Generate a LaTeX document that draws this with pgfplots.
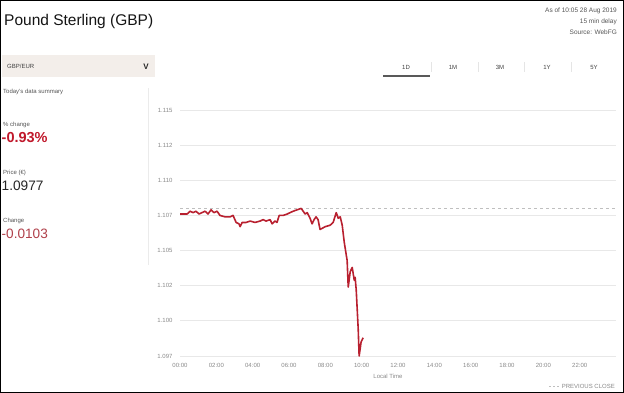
\documentclass[border=0pt]{standalone}
\usepackage{pgfplots}
\pgfplotsset{compat=1.18}
\usepackage{fontspec}
\setmainfont{Liberation Sans}
\definecolor{lred}{HTML}{B8202F}
\definecolor{bigred}{HTML}{C0182B}
\definecolor{mred}{HTML}{B0404A}
\definecolor{txtgray}{HTML}{555555}
\definecolor{tickgray}{HTML}{888888}
\definecolor{boxfill}{HTML}{F3EEEA}
\newcommand{\fs}[1]{\fontsize{#1}{#1}\selectfont}
\begin{document}
\begin{tikzpicture}[x=1pt,y=1pt]
\useasboundingbox (0,0) rectangle (624,-393);
% outer frame
\draw[line width=1.4pt,black] (0.7,-0.7) rectangle (623.3,-392.3);
% title
\node[anchor=base west,inner sep=0pt,text=black!92] at (4,-26) {\fs{15.5}Pound Sterling (GBP)};
% top-right info
\node[anchor=base east,inner sep=0pt,text=txtgray] at (617,-13) {\fs{6.5}As of 10:05 28 Aug 2019};
\node[anchor=base east,inner sep=0pt,text=txtgray] at (617,-24) {\fs{6.5}15 min delay};
\node[anchor=base east,inner sep=0pt,text=txtgray] at (617,-35) {\fs{6.5}Source: WebFG};
% dropdown
\fill[boxfill] (1.5,-55) rectangle (155,-77);
\node[anchor=west,inner sep=0pt,text=black!75] at (7,-66.5) {\fs{6}GBP/EUR};
\node[anchor=center,inner sep=0pt,text=black!85] at (146,-66.5) {\fs{8}\bfseries V};
% tabs
\foreach \lab/\xx in {1D/406,1M/453,3M/500,1Y/547,5Y/594}{
  \node[anchor=center,inner sep=0pt,text=black!75] at (\xx,-67) {\fs{6}\lab};
}
\foreach \xx in {431,478,524,571}{
  \draw[black!10,line width=0.6pt] (\xx,-62) -- (\xx,-72);
}
\draw[black!65,line width=1.3pt] (383,-76) -- (430,-76);
% left panel
\draw[black!8,line width=0.6pt] (148,-88) -- (148,-265);
\node[anchor=west,inner sep=0pt,text=txtgray] at (3,-92) {\fs{6}Today's data summary};
\node[anchor=west,inner sep=0pt,text=txtgray] at (3,-125) {\fs{6}\% change};
\node[anchor=west,inner sep=0pt,text=bigred] at (1.5,-138) {\fs{14.5}\bfseries -0.93\%};
\node[anchor=west,inner sep=0pt,text=txtgray] at (3,-173) {\fs{6}Price (€)};
\node[anchor=west,inner sep=0pt,text=black!85] at (1.5,-186) {\fs{13.7}1.0977};
\node[anchor=west,inner sep=0pt,text=txtgray] at (3,-221) {\fs{6}Change};
\node[anchor=west,inner sep=0pt,text=mred] at (1.5,-234) {\fs{13.6}-0.0103};
% chart
\begin{axis}[
  at={(180pt,-356pt)}, anchor=south west,
  scale only axis, width=436pt, height=246pt,
  xmin=0, xmax=24, ymin=1.0975, ymax=1.115,
  axis line style={draw=none}, tick style={draw=none},
  ymajorgrids, grid style={color=black!9, line width=0.8pt},
  xtick={0,2,4,6,8,10,12,14,16,18,20,22},
  xticklabels={00:00,02:00,04:00,06:00,08:00,10:00,12:00,14:00,16:00,18:00,20:00,22:00},
  ytick={1.0975,1.1,1.1025,1.105,1.1075,1.11,1.1125,1.115},
  yticklabels={1.097,1.100,1.102,1.105,1.107,1.110,1.112,1.115},
  ticklabel style={font=\fs{6}, text=tickgray},
  xticklabel style={yshift=-4pt},
  yticklabel style={xshift=-4pt},
  /pgf/number format/assume math mode=true,
  scaled y ticks=false, clip=false,
]
\addplot[black!25, line width=0.7pt, dash pattern=on 3pt off 3pt] coordinates {(0,1.1080) (24,1.1080)};
\addplot[lred, line width=1.6pt, line join=round] coordinates {
(0,1.1076) (0.39,1.1076) (0.55,1.1078) (0.72,1.1077) (0.88,1.1078) (1.05,1.1076)
(1.21,1.1077) (1.38,1.1078) (1.54,1.1076) (1.71,1.1079) (1.87,1.1077) (2.04,1.1078)
(2.20,1.1075) (2.48,1.1074) (2.76,1.1074) (2.92,1.1075) (3.09,1.1070) (3.25,1.1069)
(3.31,1.1067) (3.42,1.1070) (3.64,1.1070) (3.86,1.1071) (4.13,1.1070) (4.41,1.1071)
(4.57,1.1072) (4.74,1.1071) (4.96,1.1072) (5.07,1.1069) (5.23,1.1071) (5.34,1.1070)
(5.46,1.1075) (5.68,1.1075) (5.90,1.1076) (6.06,1.1077) (6.23,1.1078) (6.45,1.1079)
(6.67,1.1080) (6.78,1.1078) (6.89,1.1076) (7.00,1.1077) (7.16,1.1073) (7.27,1.1069)
(7.38,1.1072) (7.49,1.1074) (7.60,1.1072) (7.71,1.1065) (7.99,1.1067) (8.26,1.1068)
(8.43,1.1070) (8.60,1.1077) (8.71,1.1073) (8.82,1.1074) (8.93,1.1068) (9.04,1.1056)
(9.15,1.1047) (9.20,1.1043) (9.26,1.1024) (9.37,1.1035) (9.48,1.1038) (9.59,1.1029)
(9.64,1.1031) (9.70,1.1022) (9.81,1.0994) (9.86,1.0975) (9.97,1.0985) (10.08,1.0988)
};
\end{axis}
\node[anchor=center,inner sep=0pt,text=tickgray] at (388,-376) {\fs{6}Local Time};
\draw[black!25,line width=0.7pt,dash pattern=on 2pt off 2pt] (549,-386) -- (560,-386);
\node[anchor=east,inner sep=0pt,text=tickgray] at (615,-386) {\fs{6}PREVIOUS CLOSE};
\end{tikzpicture}
\end{document}
